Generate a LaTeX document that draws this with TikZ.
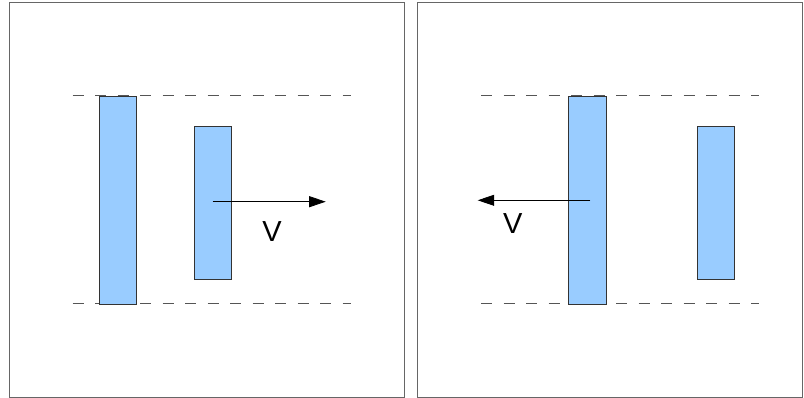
\documentclass[tikz,border=0pt]{standalone}
\usepackage{fontspec}
\setmainfont{Liberation Sans}
\usetikzlibrary{arrows.meta}
\definecolor{barblue}{HTML}{99CCFF}
\definecolor{framegray}{HTML}{666666}
\definecolor{dashgray}{HTML}{555555}
\tikzset{
  panel/.style={draw=framegray, line width=1pt},
  bar/.style={draw=black!80, fill=barblue, line width=0.9pt, inner sep=0pt, minimum width=37.5pt},
  guide/.style={draw=dashgray, line width=1pt, dash pattern=on 11pt off 11.5pt},
  vel/.style={draw=black, line width=0.8pt, -{Triangle[length=16.5pt,width=11pt]}},
  lbl/.style={inner sep=0pt, font=\fontsize{29}{29}\selectfont}
}
\begin{document}
\begin{tikzpicture}[x=1pt,y=-1pt]
\useasboundingbox (0,0) rectangle (804,398);
% panels
\draw[panel] (9,2.5) rectangle (404,397);
\draw[panel] (417.5,2.5) rectangle (802.5,397);
% guide lines left
\coordinate (gl1a) at (72.7,96);
\coordinate (gl1b) at (350.7,96);
\coordinate (gl2a) at (72.7,304);
\coordinate (gl2b) at (350.7,304);
\draw[guide] (gl1a) -- (gl1b);
\draw[guide] (gl2a) -- (gl2b);
% guide lines right
\coordinate (gr1a) at (481,96);
\coordinate (gr1b) at (759.3,96);
\coordinate (gr2a) at (481,304);
\coordinate (gr2b) at (759.3,304);
\draw[guide] (gr1a) -- (gr1b);
\draw[guide] (gr2a) -- (gr2b);
% bars left
\node[bar, minimum height=208pt] (LT) at (118,200) {};
\node[bar, minimum height=153.3pt] (LS) at (212.8,202.7) {};
% bars right
\node[bar, minimum height=208pt] (RT) at (587.2,200) {};
\node[bar, minimum height=153.3pt] (RS) at (715.8,202.7) {};
% arrows
\coordinate (la) at (212.7,201.7);
\coordinate (lb) at (325.7,201.7);
\draw[vel] (la) -- (lb);
\node[lbl] (vL) at (272,232) {V};
\coordinate (ra) at (590.3,200.3);
\coordinate (rb) at (477.7,200.3);
\draw[vel] (ra) -- (rb);
\node[lbl] (vR) at (512.7,223.7) {V};
\end{tikzpicture}
\end{document}
